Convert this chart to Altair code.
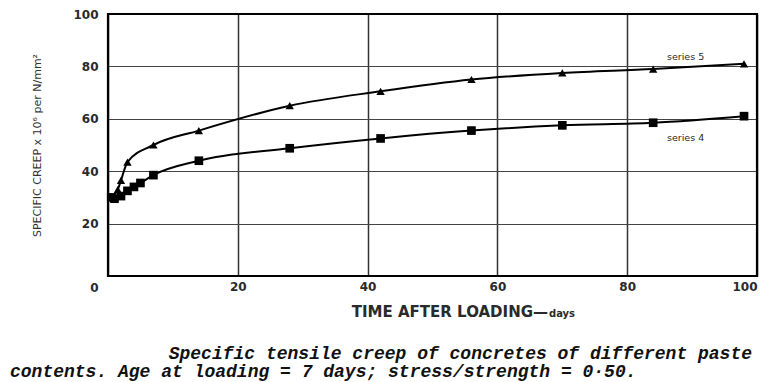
import altair as alt
import pandas as pd

# Series 5 (triangles)
s5_days = [0.5, 1.5, 2, 3, 7, 14, 28, 42, 56, 70, 84, 98]
s5_vals = [30, 33, 36.5, 43.5, 50, 55.5, 65, 70.5, 75, 77.5, 79, 81]
# Series 4 (squares)
s4_days = [0.5, 1, 2, 3, 4, 5, 7, 14, 28, 42, 56, 70, 84, 98]
s4_vals = [30, 29.5, 30.5, 32.5, 34, 35.5, 38.5, 44, 48.75, 52.5, 55.5, 57.5, 58.5, 61]

series_names = ["series 5", "series 4"]
label_days = [89, 89]
label_vals = [83.5, 52.5]

x_ticks = [0, 20, 40, 60, 80, 100]
y_ticks = [0, 20, 40, 60, 80, 100]

x_title_main = "TIME AFTER LOADING\u2014"
x_title_unit = "days"
y_title = "SPECIFIC CREEP x 10\u2076 per N/mm\u00b2"
caption_1 = "Specific tensile creep of concretes of different paste"
caption_2 = "contents. Age at loading = 7 days; stress/strength = 0\u00b750."

df5 = pd.DataFrame({"day": s5_days, "creep": s5_vals, "series": "series 5"})
df4 = pd.DataFrame({"day": s4_days, "creep": s4_vals, "series": "series 4"})
lab = pd.DataFrame({"day": label_days, "creep": label_vals, "name": series_names})

W, H = 649, 262
TXT = "#2a2a2a"

xs = alt.Scale(domain=[0, 100], nice=False, zero=False)
ys = alt.Scale(domain=[0, 100], nice=False)

x_enc = alt.X("day:Q", scale=xs, axis=alt.Axis(
    values=x_ticks, title=None, grid=True, gridColor="#333333", gridWidth=1.5,
    domain=False, ticks=False, labelFont="DejaVu Sans", labelFontSize=12,
    labelFontWeight="bold", labelColor=TXT, labelPadding=5,
    labelExpr="datum.value === 0 ? '' : datum.label"))
y_enc = alt.Y("creep:Q", scale=ys, axis=alt.Axis(
    values=y_ticks, title=y_title, grid=True, gridColor="#444444", gridWidth=1.2,
    domain=False, ticks=False, labelFont="DejaVu Sans", labelFontSize=12,
    labelFontWeight="bold", labelColor=TXT, labelPadding=10,
    labelOffset={"condition": {"test": "datum.value === 0", "value": 11}, "value": 0},
    titleFont="DejaVu Sans", titleFontSize=11, titleFontWeight="normal",
    titleColor="#333333", titlePadding=30))

line5 = alt.Chart(df5).mark_line(color="black", strokeWidth=2, interpolate="monotone").encode(x=x_enc, y=y_enc)
pts5 = alt.Chart(df5).mark_point(shape="triangle-up", filled=True, color="black", size=70, opacity=1).encode(x="day:Q", y="creep:Q")
line4 = alt.Chart(df4).mark_line(color="black", strokeWidth=2, interpolate="monotone").encode(x="day:Q", y="creep:Q")
pts4 = alt.Chart(df4).mark_point(shape="square", filled=True, color="black", size=75, opacity=1).encode(x="day:Q", y="creep:Q")

labels = alt.Chart(lab).mark_text(font="DejaVu Sans", fontSize=9.5, color=TXT).encode(
    x="day:Q", y="creep:Q", text="name:N")

frame = alt.Chart(pd.DataFrame({"a": [0]})).mark_rect(
    fill=None, stroke="black", strokeWidth=2.2
).encode(x=alt.value(0), x2=alt.value(W), y=alt.value(0), y2=alt.value(H))

xt1 = alt.Chart(pd.DataFrame({"t": [x_title_main]})).mark_text(
    font="DejaVu Sans", fontSize=15, fontWeight="bold", color=TXT, align="right", baseline="alphabetic"
).encode(x=alt.value(440), y=alt.value(303), text="t:N")
xt2 = alt.Chart(pd.DataFrame({"t": [x_title_unit]})).mark_text(
    font="DejaVu Sans", fontSize=10, fontWeight="bold", color=TXT, align="left", baseline="alphabetic"
).encode(x=alt.value(441), y=alt.value(303), text="t:N")

cap1 = alt.Chart(pd.DataFrame({"t": [caption_1]})).mark_text(
    font="Liberation Mono", fontSize=18, fontWeight="bold", fontStyle="italic", color="#111",
    align="right", baseline="alphabetic"
).encode(x=alt.value(644), y=alt.value(345), text="t:N")
cap2 = alt.Chart(pd.DataFrame({"t": [caption_2]})).mark_text(
    font="Liberation Mono", fontSize=18, fontWeight="bold", fontStyle="italic", color="#111",
    align="left", baseline="alphabetic"
).encode(x=alt.value(-98), y=alt.value(363), text="t:N")

chart = alt.layer(line5, line4, pts5, pts4, labels, frame, xt1, xt2, cap1, cap2).properties(
    width=W, height=H,
    autosize=alt.AutoSizeParams(type="none"),
    padding={"left": 108, "top": 14, "right": 9, "bottom": 106},
    background="white",
).configure_view(stroke=None)

chart.save("out.html", embed_options={"renderer": "svg", "actions": False})
